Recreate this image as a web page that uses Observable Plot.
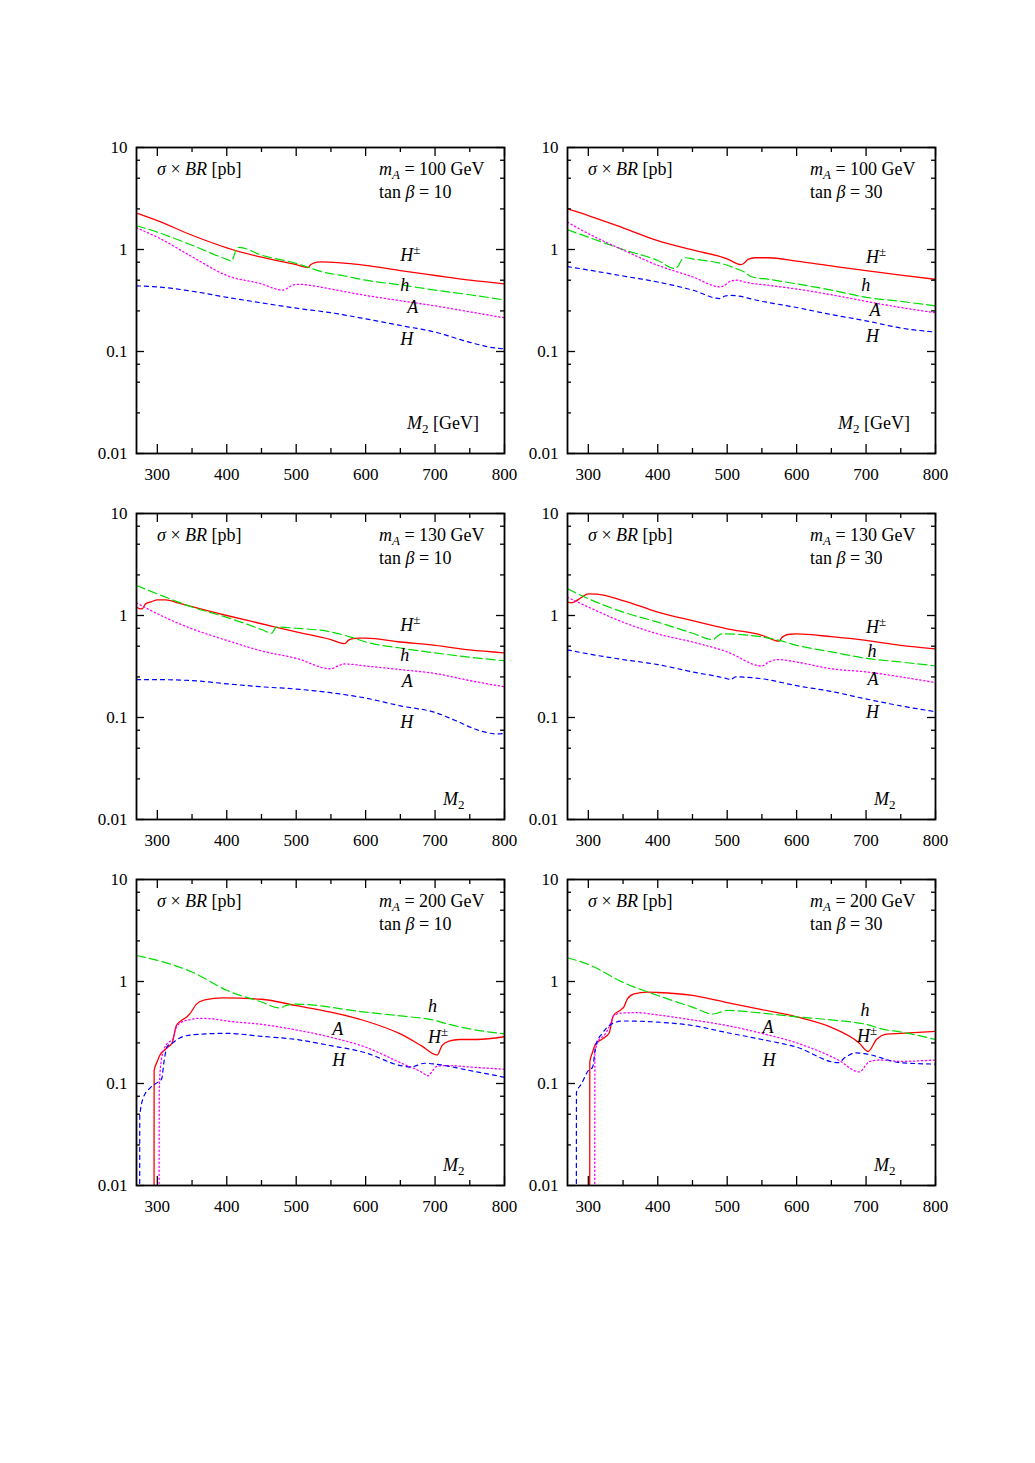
<!DOCTYPE html>
<html><head><meta charset="utf-8">
<script src="https://cdn.jsdelivr.net/npm/d3@7"></script>
<script src="https://cdn.jsdelivr.net/npm/@observablehq/plot@0.6"></script>
<style>
body{margin:0;background:#fff;}
#root{position:relative;width:1035px;height:1463px;background:#fff;}
.panel{position:absolute;}
text{white-space:pre;}
</style></head><body><div id="root"></div>
<script>
// ---------- axis values ----------
const xDomain = [270, 800];
const yDomain = [0.01, 10];
const xTicks = [300, 400, 500, 600, 700, 800];
const xMinorTicks = [350, 450, 550, 650, 750];
const yTicks = [0.01, 0.1, 1, 10];
const yTickLabels = ["0.01", "0.1", "1", "10"];
const yMinorTicks = [0.025, 0.05, 0.075, 0.25, 0.5, 0.75, 2.5, 5, 7.5];

// ---------- panel parameters ----------
const mAValues = [100, 100, 130, 130, 200, 200];
const tanBetaValues = [10, 30, 10, 30, 10, 30];
const xTitles = ["[GeV]", "[GeV]", "", "", "", ""];

// ---------- series: [M2, sigma x BR (pb)] ----------
// Panel 1: mA = 100, tan beta = 10
const p1_Hc = [[270,2.27],[300,1.92],[350,1.38],[400,1.04],[450,0.84],[500,0.71],[517,0.665],[520,0.70],[525,0.735],[535,0.755],[560,0.745],[600,0.70],[650,0.62],[700,0.556],[750,0.50],[800,0.46]];
const p1_h  = [[270,1.71],[300,1.48],[350,1.1],[400,0.80],[407,0.77],[410,0.85],[414,1.02],[418,1.05],[450,0.88],[500,0.73],[517,0.67],[539,0.60],[570,0.55],[600,0.50],[650,0.45],[700,0.40],[750,0.36],[800,0.32]];
const p1_A  = [[270,1.63],[300,1.32],[350,0.85],[400,0.556],[450,0.46],[480,0.40],[487,0.415],[496,0.45],[505,0.455],[520,0.445],[550,0.41],[600,0.355],[650,0.315],[700,0.28],[750,0.245],[800,0.214]];
const p1_H  = [[270,0.44],[300,0.43],[350,0.39],[400,0.34],[450,0.30],[500,0.266],[550,0.24],[600,0.209],[650,0.18],[700,0.155],[750,0.123],[780,0.11],[800,0.106]];

// Panel 2: mA = 100, tan beta = 30
const p2_Hc = [[270,2.5],[300,2.15],[350,1.63],[400,1.22],[450,0.99],[500,0.81],[520,0.71],[525,0.74],[530,0.80],[540,0.83],[560,0.83],[600,0.77],[650,0.69],[700,0.62],[750,0.56],[800,0.51]];
const p2_h  = [[270,1.56],[300,1.32],[350,1.0],[400,0.78],[425,0.65],[430,0.70],[435,0.80],[440,0.83],[450,0.81],[500,0.70],[515,0.64],[525,0.60],[535,0.54],[560,0.51],[600,0.46],[650,0.40],[700,0.34],[750,0.31],[800,0.28]];
const p2_A  = [[270,1.85],[300,1.43],[350,0.99],[400,0.70],[450,0.54],[490,0.43],[495,0.44],[505,0.49],[515,0.50],[525,0.48],[560,0.445],[600,0.41],[650,0.36],[700,0.31],[750,0.27],[800,0.24]];
const p2_H  = [[270,0.68],[300,0.63],[350,0.55],[400,0.48],[450,0.40],[490,0.33],[497,0.35],[505,0.355],[550,0.31],[600,0.27],[650,0.23],[700,0.20],[750,0.17],[800,0.155]];

// Panel 3: mA = 130, tan beta = 10
const p3_Hc = [[270,1.21],[274,1.17],[278,1.16],[283,1.3],[292,1.37],[300,1.42],[312,1.42],[330,1.33],[350,1.22],[400,1.0],[450,0.83],[500,0.69],[550,0.58],[570,0.53],[575,0.57],[580,0.59],[590,0.60],[600,0.60],[650,0.55],[700,0.51],[750,0.46],[800,0.43]];
const p3_h  = [[270,1.97],[300,1.63],[350,1.21],[400,0.96],[450,0.73],[465,0.67],[468,0.72],[472,0.77],[500,0.75],[550,0.69],[580,0.61],[600,0.55],[650,0.48],[700,0.43],[750,0.39],[800,0.36]];
const p3_A  = [[270,1.33],[300,1.04],[350,0.74],[400,0.57],[450,0.45],[500,0.38],[550,0.30],[560,0.32],[570,0.335],[600,0.32],[650,0.295],[700,0.27],[750,0.23],[800,0.20]];
const p3_H  = [[270,0.235],[300,0.235],[350,0.23],[400,0.214],[450,0.20],[500,0.19],[550,0.175],[600,0.155],[650,0.13],[700,0.112],[730,0.093],[760,0.076],[790,0.069],[800,0.07]];

// Panel 4: mA = 130, tan beta = 30
const p4_Hc = [[270,1.35],[276,1.33],[280,1.36],[290,1.5],[300,1.63],[312,1.62],[350,1.40],[400,1.08],[450,0.89],[500,0.74],[550,0.64],[575,0.56],[578,0.60],[582,0.63],[590,0.655],[600,0.66],[650,0.62],[700,0.57],[750,0.51],[800,0.47]];
const p4_h  = [[270,1.83],[300,1.46],[350,1.08],[400,0.86],[450,0.67],[480,0.58],[485,0.62],[492,0.66],[520,0.65],[575,0.57],[600,0.51],[650,0.44],[700,0.38],[750,0.35],[800,0.32]];
const p4_A  = [[270,1.51],[300,1.21],[350,0.86],[400,0.66],[450,0.55],[500,0.44],[550,0.32],[560,0.35],[572,0.37],[600,0.35],[650,0.30],[700,0.28],[750,0.25],[800,0.22]];
const p4_H  = [[270,0.46],[300,0.42],[350,0.37],[400,0.33],[450,0.28],[500,0.24],[505,0.235],[512,0.25],[550,0.24],[600,0.205],[650,0.18],[700,0.152],[750,0.13],[800,0.114]];

// Panel 5: mA = 200, tan beta = 10
const p5_Hc = [[295.2,0.001],[295.4,0.134],[300,0.165],[303.4,0.188],[315.4,0.227],[321.7,0.254],[327.4,0.37],[334.6,0.414],[341.9,0.447],[346.7,0.481],[356.3,0.60],[368.3,0.66],[395,0.69],[450,0.67],[500,0.58],[550,0.50],[600,0.41],[650,0.306],[680,0.235],[703,0.19],[710,0.235],[720,0.26],[735,0.27],[760,0.27],[800,0.288]];
const p5_h  = [[270,1.80],[300,1.61],[350,1.24],[400,0.82],[450,0.63],[476,0.55],[485,0.58],[495,0.60],[500,0.60],[600,0.50],[650,0.46],[700,0.415],[720,0.38],[750,0.343],[800,0.306]];
const p5_A  = [[302.4,0.001],[302.8,0.09],[305.8,0.17],[310,0.22],[315,0.25],[322,0.27],[327,0.35],[335,0.40],[345,0.42],[360,0.435],[380,0.43],[400,0.41],[450,0.38],[500,0.335],[550,0.284],[600,0.227],[650,0.16],[680,0.13],[690,0.119],[697,0.135],[703,0.148],[720,0.15],[750,0.145],[800,0.138]];
const p5_H  = [[274.5,0.001],[274.7,0.048],[280,0.073],[290,0.091],[300,0.102],[306,0.11],[310,0.17],[314,0.23],[322,0.25],[330,0.274],[350,0.30],[400,0.31],[450,0.29],[500,0.27],[550,0.235],[600,0.20],[650,0.15],[665,0.145],[685,0.158],[700,0.155],[750,0.134],[800,0.115]];

// Panel 6: mA = 200, tan beta = 30
const p6_Hc = [[301.9,0.001],[302.1,0.162],[305.8,0.20],[310.6,0.244],[320.2,0.273],[329.8,0.311],[336.1,0.464],[346.7,0.527],[351.5,0.568],[356.3,0.676],[365.9,0.757],[385,0.786],[400,0.78],[450,0.73],[500,0.62],[550,0.53],[600,0.45],[650,0.355],[690,0.25],[703,0.206],[715,0.27],[730,0.305],[750,0.31],[800,0.325]];
const p6_h  = [[270,1.71],[300,1.47],[350,0.98],[400,0.73],[450,0.56],[480,0.48],[490,0.50],[500,0.52],[550,0.49],[600,0.45],[650,0.42],[700,0.38],[725,0.34],[750,0.32],[800,0.27]];
const p6_A  = [[309.1,0.001],[309.5,0.2],[315.4,0.268],[322.6,0.295],[329.8,0.356],[337,0.464],[346.7,0.49],[370,0.495],[400,0.47],[450,0.42],[500,0.37],[550,0.31],[600,0.25],[660,0.17],[690,0.13],[705,0.164],[720,0.17],[750,0.165],[800,0.17]];
const p6_H  = [[282.7,0.001],[282.9,0.082],[290,0.099],[300,0.134],[306,0.144],[311,0.24],[320,0.31],[330,0.37],[340,0.40],[350,0.41],[400,0.40],[450,0.37],[500,0.315],[550,0.27],[600,0.227],[660,0.16],[670,0.18],[685,0.20],[700,0.195],[750,0.16],[800,0.155]];

// ---------- curve label anchors (data coordinates, text baseline) ----------
const p1_labels = [["H",650,0.763,true],["h",650,0.388,false],["A",660,0.236,false],["H",650,0.115,false]];
const p2_labels = [["H",700,0.734,true],["h",693,0.396,false],["A",705,0.225,false],["H",700,0.123,false]];
const p3_labels = [["H",650,0.70,true],["h",650,0.356,false],["A",652,0.198,false],["H",650,0.079,false]];
const p4_labels = [["H",700,0.676,true],["h",702,0.393,false],["A",702,0.207,false],["H",700,0.098,false]];
const p5_labels = [["h",690,0.50,false],["A",552,0.30,false],["H",690,0.252,true],["H",552,0.149,false]];
const p6_labels = [["h",692,0.46,false],["A",551,0.316,false],["H",687,0.256,true],["H",551,0.148,false]];

const panelSeries = [
  [p1_Hc, p1_h, p1_A, p1_H], [p2_Hc, p2_h, p2_A, p2_H],
  [p3_Hc, p3_h, p3_A, p3_H], [p4_Hc, p4_h, p4_A, p4_H],
  [p5_Hc, p5_h, p5_A, p5_H], [p6_Hc, p6_h, p6_A, p6_H]
];
const panelLabels = [p1_labels, p2_labels, p3_labels, p4_labels, p5_labels, p6_labels];

// ---------- styles ----------
const FONT = "Liberation Serif, DejaVu Serif, serif";
const seriesStyles = [
  {stroke: "#ff0000", dash: null, width: 1.3},
  {stroke: "#00dd00", dash: "9,4", width: 1.2},
  {stroke: "#ff00ff", dash: "1.3,2.7", width: 1.3},
  {stroke: "#0000ff", dash: "4,4", width: 1.2}
];
const FW = 368, FH = 306, ML = 46, MR = 21, MT = 10, MB = 30;
const panelLeft = [90, 521];
const panelTop = [137, 503, 869];

function addText(svg, x, y, parts, size = 18) {
  const t = svg.append("text").attr("x", x).attr("y", y)
    .attr("font-family", FONT).attr("font-size", size).attr("fill", "black")
    .attr("text-anchor", "start");
  for (const p of parts) {
    const ts = t.append("tspan").text(p.t);
    if (p.i) ts.attr("font-style", "italic");
    if (p.dy) ts.attr("dy", p.dy);
    if (p.fs) ts.attr("font-size", p.fs);
  }
}

const root = document.getElementById("root");
for (let i = 0; i < 6; i++) {
  const series = panelSeries[i];
  const labels = panelLabels[i].map(([t, x, y, pm]) => ({t, x, y, pm}));
  const plot = Plot.plot({
    width: ML + FW + MR, height: MT + FH + MB,
    marginLeft: ML, marginRight: MR, marginTop: MT, marginBottom: MB,
    x: {domain: xDomain},
    y: {type: "log", domain: yDomain},
    style: {fontFamily: FONT, fontSize: "17px", background: "white", color: "black", overflow: "visible"},
    marks: [
      ...series.map((pts, k) => Plot.line(pts, {
        x: d => d[0], y: d => d[1], stroke: seriesStyles[k].stroke,
        strokeWidth: seriesStyles[k].width, strokeDasharray: seriesStyles[k].dash,
        curve: "monotone-x", clip: true
      })),
      Plot.tickX(xTicks, {x: d => d, insetTop: FH - 9, strokeWidth: 1.3}),
      Plot.tickX(xTicks, {x: d => d, insetBottom: FH - 9, strokeWidth: 1.3}),
      Plot.tickX(xMinorTicks, {x: d => d, insetTop: FH - 5, strokeWidth: 1.3}),
      Plot.tickX(xMinorTicks, {x: d => d, insetBottom: FH - 5, strokeWidth: 1.3}),
      Plot.tickY(yTicks, {y: d => d, insetRight: FW - 8, strokeWidth: 1.3}),
      Plot.tickY(yTicks, {y: d => d, insetLeft: FW - 8, strokeWidth: 1.3}),
      Plot.tickY(yMinorTicks, {y: d => d, insetRight: FW - 4, strokeWidth: 1.3}),
      Plot.tickY(yMinorTicks, {y: d => d, insetLeft: FW - 4, strokeWidth: 1.3}),
      Plot.frame({strokeWidth: 1.8}),
      Plot.axisX({ticks: xTicks, tickSize: 0, tickPadding: 14, fontSize: 17, fontFamily: FONT, label: null}),
      Plot.axisY({ticks: yTicks, tickFormat: d => yTickLabels[yTicks.indexOf(d)], tickSize: 0, tickPadding: 9, fontSize: 17, fontFamily: FONT, label: null}),
      Plot.text(labels, {x: "x", y: "y", text: "t", fontStyle: "italic", fontFamily: FONT, textAnchor: "start", lineAnchor: "bottom", fontSize: 18}),
      Plot.text(labels.filter(d => d.pm), {x: "x", y: "y", text: () => "±", fontFamily: FONT, textAnchor: "start", lineAnchor: "bottom", fontSize: 13, dx: 13, dy: -7})
    ]
  });
  plot.setAttribute("font-family", FONT);
  const svg = d3.select(plot);
  addText(svg, ML + 21, MT + 28, [{t: "σ", i: true}, {t: " × "}, {t: "BR", i: true}, {t: " [pb]"}]);
  addText(svg, ML + 243, MT + 28, [{t: "m", i: true}, {t: "A", i: true, fs: 13, dy: 4}, {t: " = " + mAValues[i] + " GeV", dy: -4}]);
  addText(svg, ML + 243, MT + 51, [{t: "tan "}, {t: "β", i: true}, {t: " = " + tanBetaValues[i]}]);
  if (xTitles[i]) {
    addText(svg, ML + 271, MT + FH - 24, [{t: "M", i: true}, {t: "2", fs: 13, dy: 4}, {t: " " + xTitles[i], dy: -4}]);
  } else {
    addText(svg, ML + 307, MT + FH - 14, [{t: "M", i: true}, {t: "2", fs: 13, dy: 4}]);
  }
  const wrap = document.createElement("div");
  wrap.className = "panel";
  wrap.style.left = panelLeft[i % 2] + "px";
  wrap.style.top = panelTop[Math.floor(i / 2)] + "px";
  wrap.appendChild(plot);
  root.appendChild(wrap);
}
</script></body></html>
